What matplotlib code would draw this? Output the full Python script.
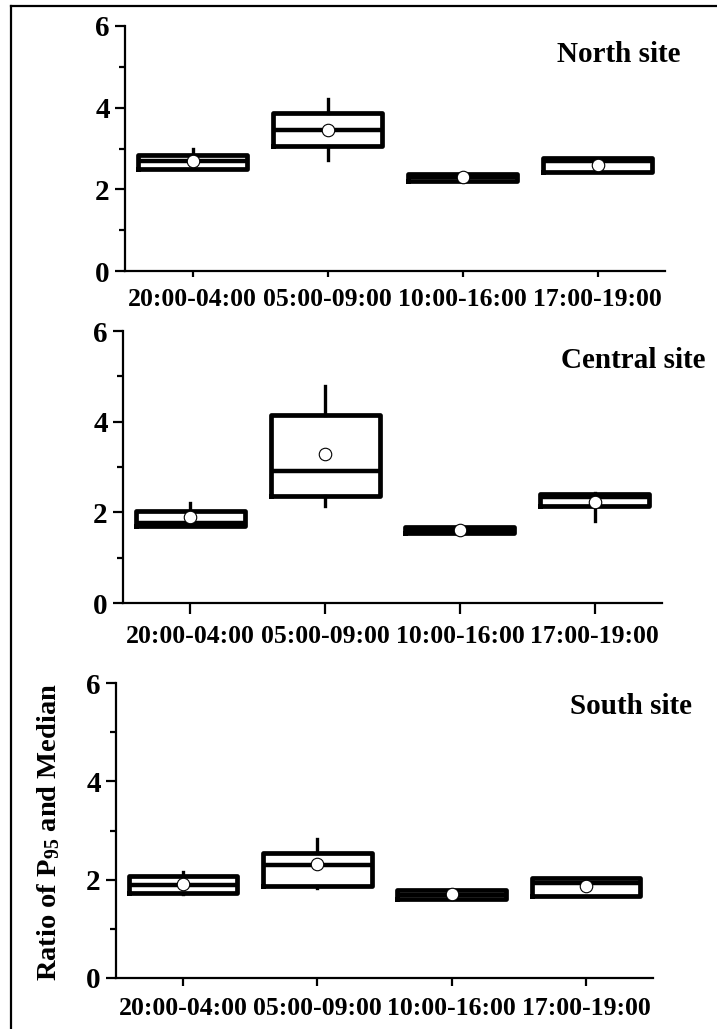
import matplotlib
matplotlib.use("Agg")
import matplotlib.pyplot as plt
from matplotlib.lines import Line2D
from matplotlib.ticker import AutoMinorLocator

plt.rcParams['font.family'] = ['Liberation Serif', 'DejaVu Serif']
plt.rcParams['font.weight'] = 'bold'
plt.rcParams['mathtext.fontset'] = 'custom'
plt.rcParams['mathtext.rm'] = 'Liberation Serif:bold'
plt.rcParams['mathtext.it'] = 'Liberation Serif:bold'
plt.rcParams['mathtext.bf'] = 'Liberation Serif:bold'

periods = ["20:00-04:00", "05:00-09:00", "10:00-16:00", "17:00-19:00"]

# North site
north_q1 = [2.50, 3.06, 2.21, 2.42]
north_med = [2.69, 3.45, 2.30, 2.69]
north_q3 = [2.85, 3.87, 2.38, 2.77]
north_lo = [2.50, 2.73, 2.21, 2.42]
north_hi = [2.98, 4.22, 2.38, 2.77]
north_mean = [2.69, 3.45, 2.29, 2.59]

# Central site
central_q1 = [1.70, 2.36, 1.54, 2.15]
central_med = [1.77, 2.91, 1.60, 2.33]
central_q3 = [2.03, 4.15, 1.68, 2.40]
central_lo = [1.70, 2.15, 1.54, 1.81]
central_hi = [2.21, 4.79, 1.68, 2.43]
central_mean = [1.90, 3.28, 1.62, 2.22]

# South site
south_q1 = [1.72, 1.88, 1.61, 1.66]
south_med = [1.89, 2.30, 1.68, 1.93]
south_q3 = [2.08, 2.55, 1.79, 2.03]
south_lo = [1.70, 1.84, 1.61, 1.66]
south_hi = [2.16, 2.83, 1.79, 2.03]
south_mean = [1.91, 2.32, 1.70, 1.87]

sites = [
    ("North site", north_q1, north_med, north_q3, north_lo, north_hi, north_mean),
    ("Central site", central_q1, central_med, central_q3, central_lo, central_hi, central_mean),
    ("South site", south_q1, south_med, south_q3, south_lo, south_hi, south_mean),
]

W, H = 717, 1029
fig = plt.figure(figsize=(W / 100, H / 100), dpi=100)

# axes boxes in pixels: left, right, top, bottom
boxes_px = [(125, 665, 26, 271), (123, 662, 331, 603), (116, 653, 683, 978)]
title_pos = [(1.028, 0.882), (1.08, 0.893), (1.073, 0.919)]
xtick_len = [4, 8, 6]

axes = []
for k, (name, q1, med, q3, lo, hi, mean) in enumerate(sites):
    l, r, t, b = boxes_px[k]
    ax = fig.add_axes([l / W, 1 - b / H, (r - l) / W, (b - t) / H])
    stats = []
    for i in range(len(periods)):
        stats.append(dict(q1=q1[i], med=med[i], q3=q3[i], whislo=lo[i],
                          whishi=hi[i], mean=mean[i], fliers=[]))
    ax.bxp(stats, positions=range(1, 5), widths=0.81, showcaps=False,
           showmeans=True, showfliers=False,
           boxprops=dict(color='black', linewidth=3.4),
           medianprops=dict(color='black', linewidth=3.2),
           whiskerprops=dict(color='black', linewidth=2.4),
           meanprops=dict(marker='o', markerfacecolor='white',
                          markeredgecolor='black', markersize=9,
                          markeredgewidth=0.8))
    ax.set_xlim(0.5, 4.5)
    ax.set_ylim(0, 6)
    ax.set_yticks([0, 2, 4, 6])
    ax.yaxis.set_minor_locator(AutoMinorLocator(2))
    ax.set_xticks(range(1, 5))
    ax.set_xticklabels(periods)
    for sp in ['top', 'right']:
        ax.spines[sp].set_visible(False)
    for sp in ['left', 'bottom']:
        ax.spines[sp].set_linewidth(1.6)
    ax.tick_params(axis='y', which='major', direction='out', length=7,
                   width=1.6, labelsize=21, pad=4)
    ax.tick_params(axis='y', which='minor', direction='out', length=4, width=1.6)
    ax.tick_params(axis='x', which='major', direction='out', length=xtick_len[k],
                   width=1.6, labelsize=18.5, pad=8)
    ax.text(title_pos[k][0], title_pos[k][1], name, transform=ax.transAxes,
            ha='right', va='center', fontsize=21, fontweight='bold')
    axes.append(ax)

fig.text(49 / W, 1 - 832 / H, "Ratio of P$_{95}$ and Median", rotation=90,
         ha='center', va='center', fontsize=20.5, fontweight='bold')

# outer frame (only top and left edges visible)
fig.add_artist(Line2D([11 / W, 1], [1 - 6 / H, 1 - 6 / H], color='black', linewidth=1.6))
fig.add_artist(Line2D([11 / W, 11 / W], [0, 1 - 6 / H], color='black', linewidth=1.6))

fig.savefig("out.png", dpi=100)
